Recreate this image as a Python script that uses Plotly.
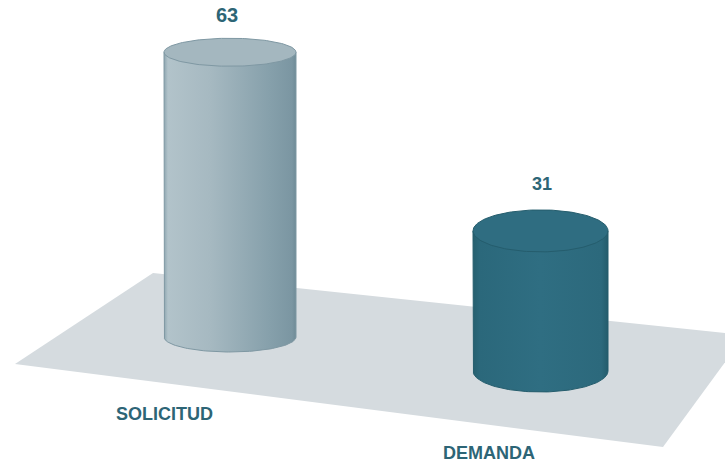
import numpy as np
import plotly.graph_objects as go

# ---- data ----
categories = ["SOLICITUD", "DEMANDA"]
values = [63, 31]

# ---- layout / style (pixel space of the 725x464 canvas) ----
W, H = 725, 464
px_per_unit = 4.52
centers_x = [230, 540.5]
bases_y = [337, 371]          # centre of bottom ellipse
radius_x = [66, 67.5]
radius_y_top = [14, 21]
radius_y_bot = [15, 21]
body_grad = [
    [[0, "#8ea6b0"], [0.03, "#b2c3ca"], [0.35, "#a6b9c1"], [0.8, "#86a0ab"], [0.97, "#7b96a2"], [1, "#6f8b97"]],
    [[0, "#26606f"], [0.05, "#2b687b"], [0.5, "#2f6e82"], [0.95, "#2c697c"], [1, "#245c6c"]],
]
top_colors = ["#a4b7bf", "#2f6d81"]
edge_colors = ["#7f98a3", "#255d6d"]
value_font_sizes = [20, 18]
value_dx = [-3, 1.5]
value_dy = [-21, -24]
label_pos = [(164.5, 413.5), (489, 453)]
text_color = "#2d6576"
floor_x = [153, 745, 663, 15, 153]
floor_y = [273, 335, 447, 364, 273]

fig = go.Figure()

# floor
fig.add_trace(go.Scatter(x=floor_x, y=floor_y, mode="lines", fill="toself",
                         fillcolor="#d5dbdf", line=dict(width=0), hoverinfo="skip",
                         showlegend=False))

t = np.linspace(0, np.pi, 80)
for i, (cat, v) in enumerate(zip(categories, values)):
    cx, base, rx = centers_x[i], bases_y[i], radius_x[i]
    top = base - v * px_per_unit
    ryb, ryt = radius_y_bot[i], radius_y_top[i]
    # body: left edge down, bottom front arc, right edge up
    arc_x = cx - rx * np.cos(t)
    arc_y = base + ryb * np.sin(t)
    bx = np.concatenate([[cx - rx], arc_x, [cx + rx, cx - rx]])
    by = np.concatenate([[top], arc_y, [top, top]])
    fig.add_trace(go.Scatter(x=bx, y=by, mode="lines", fill="toself",
                             fillgradient=dict(type="horizontal", colorscale=body_grad[i]),
                             line=dict(width=1, color=edge_colors[i]),
                             hoverinfo="skip", showlegend=False))
    # top ellipse
    tt = np.linspace(0, 2 * np.pi, 160)
    fig.add_trace(go.Scatter(x=cx + rx * np.cos(tt), y=top + ryt * np.sin(tt),
                             mode="lines", fill="toself", fillcolor=top_colors[i],
                             line=dict(width=1, color=edge_colors[i]),
                             hoverinfo="skip", showlegend=False))
    # value label
    fig.add_trace(go.Scatter(x=[cx + value_dx[i]], y=[top - ryt + value_dy[i]],
                             mode="text", text=[str(v)],
                             textfont=dict(family="Liberation Sans", size=value_font_sizes[i],
                                           color=text_color, weight="bold"),
                             textposition="middle center", hoverinfo="skip", showlegend=False))
    # category label
    fig.add_annotation(x=label_pos[i][0], y=label_pos[i][1], text=cat, showarrow=False,
                       font=dict(family="Liberation Sans", size=18, color=text_color, weight="bold"),
                       xanchor="center", yanchor="middle")

fig.update_layout(
    width=W, height=H, margin=dict(l=0, r=0, t=0, b=0),
    paper_bgcolor="white", plot_bgcolor="white",
    xaxis=dict(range=[0, W], visible=False, fixedrange=True),
    yaxis=dict(range=[H, 0], visible=False, fixedrange=True),
)
fig.write_html("out.html", config={"displayModeBar": False})

# remove the default page margin so the figure fills the window exactly
with open("out.html", "r", encoding="utf-8") as f:
    html = f.read()
html = html.replace("<head>", "<head><style>html,body{margin:0;padding:0;overflow:hidden;}</style>", 1)
with open("out.html", "w", encoding="utf-8") as f:
    f.write(html)
